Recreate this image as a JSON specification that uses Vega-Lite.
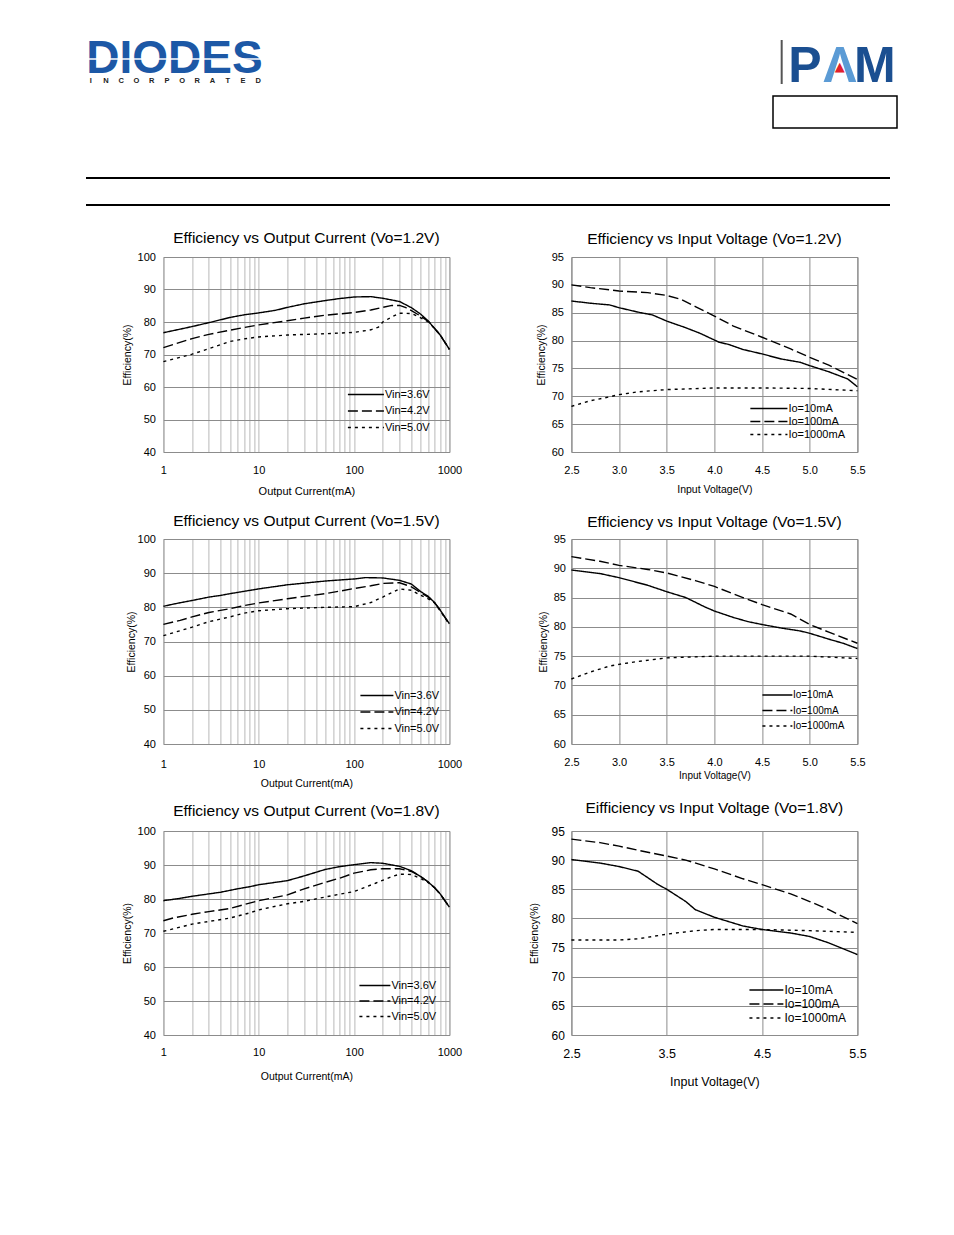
{
"$schema": "https://vega.github.io/schema/vega-lite/v6.json",
"background": "white",
"padding": {"left": 85, "top": 36, "right": 5, "bottom": 5},
"config": {
 "font": "Liberation Sans",
 "view": {"stroke": "#808080", "strokeWidth": 1},
 "axis": {"domain": false, "ticks": false, "tickSize": 0, "gridColor": "#8c8c8c", "gridWidth": 1, "gridOpacity": 1, "labelColor": "black", "titleColor": "black", "titleFontWeight": "normal", "labelFontSize": 11, "titleFontSize": 11, "labelFont": "Liberation Sans", "titleFont": "Liberation Sans", "labelFlush": false, "labelOverlap": false},
 "title": {"fontSize": 15.5, "fontWeight": "normal", "color": "black", "font": "Liberation Sans"},
 "legend": {"labelFontSize": 11, "labelColor": "black", "labelFont": "Liberation Sans", "symbolStrokeColor": "black", "symbolStrokeWidth": 1.5, "symbolType": "M-4,0H4", "padding": 0}
},
"resolve": {"scale": {"strokeDash": "independent", "color": "independent"}, "legend": {"strokeDash": "independent", "color": "independent"}},
"datasets": {
 "c1": [
  {"s":"Vin=3.6V","x":1,"y":76.7},{"s":"Vin=3.6V","x":1.5,"y":77.8},{"s":"Vin=3.6V","x":2,"y":78.6},{"s":"Vin=3.6V","x":3,"y":79.8},{"s":"Vin=3.6V","x":5,"y":81.4},{"s":"Vin=3.6V","x":7,"y":82.2},{"s":"Vin=3.6V","x":10,"y":82.8},{"s":"Vin=3.6V","x":15,"y":83.6},{"s":"Vin=3.6V","x":20,"y":84.5},{"s":"Vin=3.6V","x":30,"y":85.6},{"s":"Vin=3.6V","x":50,"y":86.6},{"s":"Vin=3.6V","x":70,"y":87.2},{"s":"Vin=3.6V","x":100,"y":87.7},{"s":"Vin=3.6V","x":150,"y":87.8},{"s":"Vin=3.6V","x":200,"y":87.3},{"s":"Vin=3.6V","x":300,"y":86.3},{"s":"Vin=3.6V","x":400,"y":84.4},{"s":"Vin=3.6V","x":500,"y":82.4},{"s":"Vin=3.6V","x":600,"y":80.3},{"s":"Vin=3.6V","x":700,"y":78},{"s":"Vin=3.6V","x":800,"y":76},{"s":"Vin=3.6V","x":1000,"y":71.6},
  {"s":"Vin=4.2V","x":1,"y":72.1},{"s":"Vin=4.2V","x":2,"y":74.9},{"s":"Vin=4.2V","x":3,"y":76.2},{"s":"Vin=4.2V","x":5,"y":77.5},{"s":"Vin=4.2V","x":7,"y":78.3},{"s":"Vin=4.2V","x":10,"y":79.1},{"s":"Vin=4.2V","x":20,"y":80.4},{"s":"Vin=4.2V","x":30,"y":81.2},{"s":"Vin=4.2V","x":50,"y":82.1},{"s":"Vin=4.2V","x":100,"y":82.9},{"s":"Vin=4.2V","x":150,"y":83.7},{"s":"Vin=4.2V","x":200,"y":84.5},{"s":"Vin=4.2V","x":250,"y":85.1},{"s":"Vin=4.2V","x":300,"y":85.1},{"s":"Vin=4.2V","x":350,"y":84.4},{"s":"Vin=4.2V","x":400,"y":83.5},{"s":"Vin=4.2V","x":500,"y":81.8},{"s":"Vin=4.2V","x":600,"y":80.2},{"s":"Vin=4.2V","x":700,"y":78},{"s":"Vin=4.2V","x":800,"y":76},{"s":"Vin=4.2V","x":1000,"y":71.6},
  {"s":"Vin=5.0V","x":1,"y":67.8},{"s":"Vin=5.0V","x":2,"y":70.1},{"s":"Vin=5.0V","x":3,"y":71.8},{"s":"Vin=5.0V","x":5,"y":74},{"s":"Vin=5.0V","x":7,"y":74.8},{"s":"Vin=5.0V","x":10,"y":75.4},{"s":"Vin=5.0V","x":20,"y":76},{"s":"Vin=5.0V","x":50,"y":76.4},{"s":"Vin=5.0V","x":100,"y":76.8},{"s":"Vin=5.0V","x":150,"y":77.6},{"s":"Vin=5.0V","x":180,"y":78.4},{"s":"Vin=5.0V","x":200,"y":80},{"s":"Vin=5.0V","x":250,"y":81.6},{"s":"Vin=5.0V","x":300,"y":82.7},{"s":"Vin=5.0V","x":400,"y":82.6},{"s":"Vin=5.0V","x":500,"y":81.3},{"s":"Vin=5.0V","x":600,"y":80},{"s":"Vin=5.0V","x":700,"y":78},{"s":"Vin=5.0V","x":800,"y":76},{"s":"Vin=5.0V","x":1000,"y":71.6}
 ],
 "c2": [
  {"s":"Io=10mA","x":2.5,"y":87.1},{"s":"Io=10mA","x":2.7,"y":86.7},{"s":"Io=10mA","x":2.9,"y":86.4},{"s":"Io=10mA","x":3.0,"y":85.9},{"s":"Io=10mA","x":3.2,"y":85.1},{"s":"Io=10mA","x":3.35,"y":84.6},{"s":"Io=10mA","x":3.5,"y":83.5},{"s":"Io=10mA","x":3.7,"y":82.3},{"s":"Io=10mA","x":3.85,"y":81.3},{"s":"Io=10mA","x":4.05,"y":79.7},{"s":"Io=10mA","x":4.15,"y":79.3},{"s":"Io=10mA","x":4.3,"y":78.4},{"s":"Io=10mA","x":4.5,"y":77.6},{"s":"Io=10mA","x":4.7,"y":76.7},{"s":"Io=10mA","x":4.9,"y":76.1},{"s":"Io=10mA","x":5.0,"y":75.5},{"s":"Io=10mA","x":5.2,"y":74.4},{"s":"Io=10mA","x":5.4,"y":73.1},{"s":"Io=10mA","x":5.5,"y":71.7},
  {"s":"Io=100mA","x":2.5,"y":90},{"s":"Io=100mA","x":2.7,"y":89.5},{"s":"Io=100mA","x":3.0,"y":88.9},{"s":"Io=100mA","x":3.3,"y":88.6},{"s":"Io=100mA","x":3.5,"y":88.1},{"s":"Io=100mA","x":3.65,"y":87.4},{"s":"Io=100mA","x":3.8,"y":86.1},{"s":"Io=100mA","x":4.0,"y":84.4},{"s":"Io=100mA","x":4.2,"y":82.6},{"s":"Io=100mA","x":4.5,"y":80.6},{"s":"Io=100mA","x":4.8,"y":78.5},{"s":"Io=100mA","x":5.0,"y":77},{"s":"Io=100mA","x":5.2,"y":75.6},{"s":"Io=100mA","x":5.5,"y":73},
  {"s":"Io=1000mA","x":2.5,"y":68.2},{"s":"Io=1000mA","x":2.7,"y":69.2},{"s":"Io=1000mA","x":2.9,"y":69.9},{"s":"Io=1000mA","x":3.0,"y":70.3},{"s":"Io=1000mA","x":3.2,"y":70.8},{"s":"Io=1000mA","x":3.5,"y":71.2},{"s":"Io=1000mA","x":4.0,"y":71.5},{"s":"Io=1000mA","x":4.5,"y":71.5},{"s":"Io=1000mA","x":5.0,"y":71.4},{"s":"Io=1000mA","x":5.5,"y":71}
 ],
 "c3": [
  {"s":"Vin=3.6V","x":1,"y":80.3},{"s":"Vin=3.6V","x":1.3,"y":81},{"s":"Vin=3.6V","x":2,"y":82},{"s":"Vin=3.6V","x":3,"y":83},{"s":"Vin=3.6V","x":4,"y":83.5},{"s":"Vin=3.6V","x":5,"y":84},{"s":"Vin=3.6V","x":10,"y":85.4},{"s":"Vin=3.6V","x":20,"y":86.6},{"s":"Vin=3.6V","x":50,"y":87.7},{"s":"Vin=3.6V","x":100,"y":88.3},{"s":"Vin=3.6V","x":130,"y":88.7},{"s":"Vin=3.6V","x":200,"y":88.6},{"s":"Vin=3.6V","x":300,"y":87.9},{"s":"Vin=3.6V","x":400,"y":86.8},{"s":"Vin=3.6V","x":500,"y":84.6},{"s":"Vin=3.6V","x":600,"y":83.2},{"s":"Vin=3.6V","x":700,"y":81.4},{"s":"Vin=3.6V","x":800,"y":79.2},{"s":"Vin=3.6V","x":1000,"y":75.2},
  {"s":"Vin=4.2V","x":1,"y":75},{"s":"Vin=4.2V","x":1.5,"y":76.2},{"s":"Vin=4.2V","x":2,"y":77.2},{"s":"Vin=4.2V","x":3,"y":78.5},{"s":"Vin=4.2V","x":5,"y":79.6},{"s":"Vin=4.2V","x":7,"y":80.5},{"s":"Vin=4.2V","x":10,"y":81.3},{"s":"Vin=4.2V","x":20,"y":82.5},{"s":"Vin=4.2V","x":30,"y":83.2},{"s":"Vin=4.2V","x":50,"y":84},{"s":"Vin=4.2V","x":100,"y":85.5},{"s":"Vin=4.2V","x":150,"y":86.3},{"s":"Vin=4.2V","x":200,"y":87},{"s":"Vin=4.2V","x":300,"y":87.2},{"s":"Vin=4.2V","x":400,"y":86},{"s":"Vin=4.2V","x":500,"y":84.3},{"s":"Vin=4.2V","x":600,"y":83},{"s":"Vin=4.2V","x":700,"y":81.3},{"s":"Vin=4.2V","x":800,"y":79.2},{"s":"Vin=4.2V","x":1000,"y":75},
  {"s":"Vin=5.0V","x":1,"y":71.7},{"s":"Vin=5.0V","x":2,"y":74.2},{"s":"Vin=5.0V","x":3,"y":75.8},{"s":"Vin=5.0V","x":5,"y":77.2},{"s":"Vin=5.0V","x":7,"y":78.3},{"s":"Vin=5.0V","x":10,"y":79},{"s":"Vin=5.0V","x":20,"y":79.6},{"s":"Vin=5.0V","x":50,"y":80},{"s":"Vin=5.0V","x":100,"y":80.2},{"s":"Vin=5.0V","x":150,"y":81.4},{"s":"Vin=5.0V","x":200,"y":83},{"s":"Vin=5.0V","x":300,"y":85.4},{"s":"Vin=5.0V","x":400,"y":85},{"s":"Vin=5.0V","x":500,"y":83.5},{"s":"Vin=5.0V","x":600,"y":82.5},{"s":"Vin=5.0V","x":700,"y":81.3},{"s":"Vin=5.0V","x":800,"y":79},{"s":"Vin=5.0V","x":1000,"y":75}
 ],
 "c4": [
  {"s":"Io=10mA","x":2.5,"y":89.7},{"s":"Io=10mA","x":2.8,"y":89.1},{"s":"Io=10mA","x":3.0,"y":88.4},{"s":"Io=10mA","x":3.3,"y":87.1},{"s":"Io=10mA","x":3.5,"y":86},{"s":"Io=10mA","x":3.7,"y":85},{"s":"Io=10mA","x":3.9,"y":83.4},{"s":"Io=10mA","x":4.0,"y":82.7},{"s":"Io=10mA","x":4.2,"y":81.6},{"s":"Io=10mA","x":4.35,"y":80.9},{"s":"Io=10mA","x":4.5,"y":80.4},{"s":"Io=10mA","x":4.7,"y":79.8},{"s":"Io=10mA","x":4.9,"y":79.3},{"s":"Io=10mA","x":5.0,"y":78.9},{"s":"Io=10mA","x":5.2,"y":77.9},{"s":"Io=10mA","x":5.35,"y":77.2},{"s":"Io=10mA","x":5.5,"y":76.3},
  {"s":"Io=100mA","x":2.5,"y":92},{"s":"Io=100mA","x":2.8,"y":91.2},{"s":"Io=100mA","x":3.0,"y":90.5},{"s":"Io=100mA","x":3.3,"y":89.8},{"s":"Io=100mA","x":3.5,"y":89.2},{"s":"Io=100mA","x":3.8,"y":87.9},{"s":"Io=100mA","x":4.0,"y":86.9},{"s":"Io=100mA","x":4.3,"y":85},{"s":"Io=100mA","x":4.5,"y":83.8},{"s":"Io=100mA","x":4.8,"y":82.2},{"s":"Io=100mA","x":5.0,"y":80.4},{"s":"Io=100mA","x":5.2,"y":79.1},{"s":"Io=100mA","x":5.5,"y":77.2},
  {"s":"Io=1000mA","x":2.5,"y":71.1},{"s":"Io=1000mA","x":2.7,"y":72.3},{"s":"Io=1000mA","x":2.9,"y":73.3},{"s":"Io=1000mA","x":3.0,"y":73.6},{"s":"Io=1000mA","x":3.2,"y":74.1},{"s":"Io=1000mA","x":3.4,"y":74.5},{"s":"Io=1000mA","x":3.5,"y":74.7},{"s":"Io=1000mA","x":4.0,"y":75},{"s":"Io=1000mA","x":4.5,"y":75},{"s":"Io=1000mA","x":5.0,"y":75},{"s":"Io=1000mA","x":5.5,"y":74.6}
 ],
 "c5": [
  {"s":"Vin=3.6V","x":1,"y":79.5},{"s":"Vin=3.6V","x":1.5,"y":80.2},{"s":"Vin=3.6V","x":2,"y":80.8},{"s":"Vin=3.6V","x":3,"y":81.5},{"s":"Vin=3.6V","x":4,"y":82},{"s":"Vin=3.6V","x":6,"y":83},{"s":"Vin=3.6V","x":8,"y":83.6},{"s":"Vin=3.6V","x":10,"y":84.2},{"s":"Vin=3.6V","x":20,"y":85.4},{"s":"Vin=3.6V","x":30,"y":86.8},{"s":"Vin=3.6V","x":50,"y":88.7},{"s":"Vin=3.6V","x":70,"y":89.5},{"s":"Vin=3.6V","x":100,"y":90.1},{"s":"Vin=3.6V","x":150,"y":90.7},{"s":"Vin=3.6V","x":200,"y":90.5},{"s":"Vin=3.6V","x":300,"y":89.6},{"s":"Vin=3.6V","x":400,"y":88.3},{"s":"Vin=3.6V","x":500,"y":86.6},{"s":"Vin=3.6V","x":600,"y":85},{"s":"Vin=3.6V","x":700,"y":83.3},{"s":"Vin=3.6V","x":800,"y":81.5},{"s":"Vin=3.6V","x":1000,"y":77.6},
  {"s":"Vin=4.2V","x":1,"y":73.6},{"s":"Vin=4.2V","x":1.3,"y":74.5},{"s":"Vin=4.2V","x":2,"y":75.5},{"s":"Vin=4.2V","x":3,"y":76.3},{"s":"Vin=4.2V","x":5,"y":77.2},{"s":"Vin=4.2V","x":8,"y":78.8},{"s":"Vin=4.2V","x":10,"y":79.5},{"s":"Vin=4.2V","x":20,"y":81.2},{"s":"Vin=4.2V","x":30,"y":83},{"s":"Vin=4.2V","x":50,"y":84.9},{"s":"Vin=4.2V","x":70,"y":86.1},{"s":"Vin=4.2V","x":100,"y":87.6},{"s":"Vin=4.2V","x":150,"y":88.6},{"s":"Vin=4.2V","x":200,"y":88.9},{"s":"Vin=4.2V","x":300,"y":88.9},{"s":"Vin=4.2V","x":400,"y":88.1},{"s":"Vin=4.2V","x":500,"y":86.6},{"s":"Vin=4.2V","x":600,"y":85},{"s":"Vin=4.2V","x":700,"y":83.3},{"s":"Vin=4.2V","x":800,"y":81.5},{"s":"Vin=4.2V","x":1000,"y":77.6},
  {"s":"Vin=5.0V","x":1,"y":70.5},{"s":"Vin=5.0V","x":2,"y":72.6},{"s":"Vin=5.0V","x":3,"y":73.4},{"s":"Vin=5.0V","x":5,"y":74.4},{"s":"Vin=5.0V","x":8,"y":75.9},{"s":"Vin=5.0V","x":10,"y":76.8},{"s":"Vin=5.0V","x":20,"y":78.6},{"s":"Vin=5.0V","x":30,"y":79.3},{"s":"Vin=5.0V","x":50,"y":80.6},{"s":"Vin=5.0V","x":100,"y":82.2},{"s":"Vin=5.0V","x":170,"y":84.7},{"s":"Vin=5.0V","x":250,"y":86.6},{"s":"Vin=5.0V","x":300,"y":87.3},{"s":"Vin=5.0V","x":400,"y":87.2},{"s":"Vin=5.0V","x":500,"y":86},{"s":"Vin=5.0V","x":600,"y":84.8},{"s":"Vin=5.0V","x":700,"y":83.3},{"s":"Vin=5.0V","x":800,"y":81.5},{"s":"Vin=5.0V","x":1000,"y":77.6}
 ],
 "c6": [
  {"s":"Io=10mA","x":2.5,"y":90.1},{"s":"Io=10mA","x":2.8,"y":89.5},{"s":"Io=10mA","x":3.0,"y":88.9},{"s":"Io=10mA","x":3.2,"y":88.1},{"s":"Io=10mA","x":3.4,"y":85.9},{"s":"Io=10mA","x":3.5,"y":85},{"s":"Io=10mA","x":3.7,"y":82.9},{"s":"Io=10mA","x":3.8,"y":81.5},{"s":"Io=10mA","x":4.0,"y":80.2},{"s":"Io=10mA","x":4.3,"y":78.7},{"s":"Io=10mA","x":4.5,"y":78.1},{"s":"Io=10mA","x":4.8,"y":77.5},{"s":"Io=10mA","x":5.0,"y":76.9},{"s":"Io=10mA","x":5.2,"y":75.8},{"s":"Io=10mA","x":5.5,"y":73.8},
  {"s":"Io=100mA","x":2.5,"y":93.6},{"s":"Io=100mA","x":2.8,"y":93},{"s":"Io=100mA","x":3.0,"y":92.4},{"s":"Io=100mA","x":3.2,"y":91.7},{"s":"Io=100mA","x":3.5,"y":90.7},{"s":"Io=100mA","x":3.7,"y":90},{"s":"Io=100mA","x":4.0,"y":88.5},{"s":"Io=100mA","x":4.3,"y":86.8},{"s":"Io=100mA","x":4.5,"y":85.8},{"s":"Io=100mA","x":4.8,"y":84.2},{"s":"Io=100mA","x":5.0,"y":82.9},{"s":"Io=100mA","x":5.2,"y":81.5},{"s":"Io=100mA","x":5.5,"y":79.1},
  {"s":"Io=1000mA","x":2.5,"y":76.3},{"s":"Io=1000mA","x":3.0,"y":76.3},{"s":"Io=1000mA","x":3.2,"y":76.5},{"s":"Io=1000mA","x":3.5,"y":77.3},{"s":"Io=1000mA","x":3.8,"y":77.9},{"s":"Io=1000mA","x":4.0,"y":78.1},{"s":"Io=1000mA","x":4.5,"y":78.1},{"s":"Io=1000mA","x":5.0,"y":77.9},{"s":"Io=1000mA","x":5.5,"y":77.6}
 ]
},
"center": true,
"spacing": 24,
"vconcat": [
 {
  "spacing": 48,
  "vconcat": [
   {
    "spacing": 508,
    "hconcat": [
     {
      "width": 177, "height": 44,
      "view": {"stroke": null},
      "layer": [
       {"data": {"values": [{"name": "DIODES"}]}, "mark": {"type": "text", "fontSize": 46, "fontWeight": "bold", "font": "Liberation Sans", "color": "#1c58a6", "baseline": "alphabetic", "dy": 11}, "encoding": {"text": {"field": "name"}}},
       {"data": {"values": [{"k": "stripe"}]}, "mark": {"type": "rule", "color": "white", "strokeWidth": 1.5, "yOffset": -3}, "encoding": {"y": {"field": "k", "type": "nominal", "scale": {"type": "point"}, "axis": null}}},
       {"data": {"values": [{"i":1,"c":"I"},{"i":2,"c":"N"},{"i":3,"c":"C"},{"i":4,"c":"O"},{"i":5,"c":"R"},{"i":6,"c":"P"},{"i":7,"c":"O"},{"i":8,"c":"R"},{"i":9,"c":"A"},{"i":10,"c":"T"},{"i":11,"c":"E"},{"i":12,"c":"D"}]}, "mark": {"type": "text", "fontSize": 7.5, "fontWeight": "bold", "color": "#222222", "baseline": "middle", "dy": 19}, "encoding": {"x": {"field": "i", "type": "ordinal", "scale": {"type": "point", "padding": 0.32}, "axis": null}, "text": {"field": "c"}}}
      ]
     },
     {
      "spacing": 3,
      "vconcat": [
       {
        "width": 124, "height": 44,
        "view": {"stroke": null},
        "resolve": {"scale": {"x": "independent"}},
        "layer": [
         {"data": {"values": [{"k": "|"}]}, "mark": {"type": "rule", "color": "#555555", "strokeWidth": 2}, "encoding": {"x": {"field": "k", "type": "nominal", "scale": {"type": "point", "align": 0.07}, "axis": null}}},
         {"layer": [
           {"data": {"values": [{"k": "P", "t": "P"}, {"k": "A", "t": "Λ"}, {"k": "M", "t": "M"}]}, "mark": {"type": "text", "fontSize": 50, "fontWeight": "bold", "baseline": "alphabetic", "dy": 20}, "encoding": {"x": {"field": "k", "type": "nominal", "scale": {"type": "point", "domain": ["P", "A", "M"], "padding": 0.77, "align": 0.59}, "axis": null}, "text": {"field": "t"}, "color": {"field": "k", "type": "nominal", "scale": {"domain": ["P", "A", "M"], "range": ["#1b4f91", "#5b9bd5", "#1b4f91"]}, "legend": null}}},
           {"data": {"values": [{"k": "A"}]}, "mark": {"type": "text", "fontSize": 13, "font": "DejaVu Sans", "color": "#e2202c", "baseline": "middle", "dy": 5}, "encoding": {"x": {"field": "k", "type": "nominal", "axis": null}, "text": {"value": "▲"}}}
         ]}
        ]
       },
       {
        "spacing": 0,
        "hconcat": [
         {
          "width": 124, "height": 32,
          "view": {"stroke": "black", "strokeWidth": 1.5},
          "data": {"values": [{"t": ""}]},
          "mark": "text",
          "encoding": {"text": {"field": "t"}}
         },
         {
          "width": 46, "height": 32,
          "view": {"stroke": null},
          "data": {"values": [{"t": ""}]},
          "mark": "text",
          "encoding": {"text": {"field": "t"}}
         }
        ]
       }
      ]
     }
    ]
   },
   {
    "width": 804, "height": 27,
    "view": {"stroke": null},
    "data": {"values": [{"k": "top"}, {"k": "bottom"}]},
    "mark": {"type": "rule", "color": "black", "strokeWidth": 2},
    "encoding": {"y": {"field": "k", "type": "ordinal", "sort": ["top", "bottom"], "scale": {"type": "point", "padding": 0}, "axis": null}}
   }
  ]
 },
 {
  "columns": 2,
  "bounds": "flush",
  "spacing": {"row": 87, "column": 122},
  "resolve": {"scale": {"strokeDash": "independent"}, "legend": {"strokeDash": "independent"}},
  "concat": [
   {
    "width": 286, "height": 195,
    "title": {"text": "Efficiency vs Output Current (Vo=1.2V)", "offset": 5},
    "data": {"name": "c1"},
    "mark": {"type": "line", "color": "black", "strokeWidth": 1.4},
    "encoding": {
     "x": {"field": "x", "type": "quantitative", "scale": {"type": "log", "domain": [1, 1000], "nice": false}, "axis": {"title": "Output Current(mA)", "values": [1,2,3,4,5,6,7,8,9,10,20,30,40,50,60,70,80,90,100,200,300,400,500,600,700,800,900,1000], "format": "d", "labelExpr": "datum.value == 1 || datum.value == 10 || datum.value == 100 || datum.value == 1000 ? datum.label : ''", "gridColor": "#b8b8b8", "labelPadding": 12, "titlePadding": 10}},
     "y": {"field": "y", "type": "quantitative", "scale": {"domain": [40, 100], "nice": false, "zero": false}, "axis": {"title": "Efficiency(%)", "values": [40,50,60,70,80,90,100], "labelPadding": 8, "titlePadding": 5, "titleFontSize": 10.5}},
     "strokeDash": {"field": "s", "type": "nominal", "scale": {"domain": ["Vin=3.6V", "Vin=4.2V", "Vin=5.0V"], "range": [[1, 0], [10, 4], [3, 4]]}, "legend": {"title": null, "orient": "bottom-right", "offset": 19, "rowPadding": 4.5, "symbolSize": 81, "labelOffset": 13.5}}
    }
   },
   {
    "width": 286, "height": 195,
    "title": {"text": "Efficiency vs Input Voltage (Vo=1.2V)", "offset": 4},
    "data": {"name": "c2"},
    "mark": {"type": "line", "color": "black", "strokeWidth": 1.4},
    "encoding": {
     "x": {"field": "x", "type": "quantitative", "scale": {"domain": [2.5, 5.5], "nice": false, "zero": false}, "axis": {"title": "Input Voltage(V)", "values": [2.5, 3, 3.5, 4, 4.5, 5, 5.5], "format": ".1f", "labelPadding": 12, "titlePadding": 9, "titleFontSize": 10.5}},
     "y": {"field": "y", "type": "quantitative", "scale": {"domain": [60, 95], "nice": false, "zero": false}, "axis": {"title": "Efficiency(%)", "values": [60,65,70,75,80,85,90,95], "labelPadding": 8, "titlePadding": 5, "titleFontSize": 10.5}},
     "strokeDash": {"field": "s", "type": "nominal", "scale": {"domain": ["Io=10mA", "Io=100mA", "Io=1000mA"], "range": [[1, 0], [10, 4], [3, 4]]}, "legend": {"title": null, "orient": "bottom-right", "offset": 12, "rowPadding": 1, "symbolSize": 86, "labelOffset": 14}}
    }
   },
   {
    "width": 286, "height": 205,
    "title": {"text": "Efficiency vs Output Current (Vo=1.5V)", "offset": 4},
    "data": {"name": "c3"},
    "mark": {"type": "line", "color": "black", "strokeWidth": 1.4},
    "encoding": {
     "x": {"field": "x", "type": "quantitative", "scale": {"type": "log", "domain": [1, 1000], "nice": false}, "axis": {"title": "Output Current(mA)", "values": [1,2,3,4,5,6,7,8,9,10,20,30,40,50,60,70,80,90,100,200,300,400,500,600,700,800,900,1000], "format": "d", "labelExpr": "datum.value == 1 || datum.value == 10 || datum.value == 100 || datum.value == 1000 ? datum.label : ''", "gridColor": "#b8b8b8", "labelPadding": 14, "titlePadding": 9, "titleFontSize": 10.5}},
     "y": {"field": "y", "type": "quantitative", "scale": {"domain": [40, 100], "nice": false, "zero": false}, "axis": {"title": "Efficiency(%)", "values": [40,50,60,70,80,90,100], "labelPadding": 8, "titlePadding": 1, "titleFontSize": 10.5}},
     "strokeDash": {"field": "s", "type": "nominal", "scale": {"domain": ["Vin=3.6V", "Vin=4.2V", "Vin=5.0V"], "range": [[1, 0], [10, 4], [3, 4]]}, "legend": {"title": null, "orient": "bottom-right", "offset": 10, "rowPadding": 4.5, "symbolSize": 68, "labelOffset": 12}}
    }
   },
   {
    "width": 286, "height": 205,
    "title": {"text": "Efficiency  vs Input Voltage (Vo=1.5V)", "offset": 3},
    "data": {"name": "c4"},
    "mark": {"type": "line", "color": "black", "strokeWidth": 1.4},
    "encoding": {
     "x": {"field": "x", "type": "quantitative", "scale": {"domain": [2.5, 5.5], "nice": false, "zero": false}, "axis": {"title": "Input Voltage(V)", "values": [2.5, 3, 3.5, 4, 4.5, 5, 5.5], "format": ".1f", "labelPadding": 12, "titlePadding": 3, "titleFontSize": 10}},
     "y": {"field": "y", "type": "quantitative", "scale": {"domain": [60, 95], "nice": false, "zero": false}, "axis": {"title": "Efficiency(%)", "values": [60,65,70,75,80,85,90,95], "labelPadding": 6, "titlePadding": 5, "titleFontSize": 10.5}},
     "strokeDash": {"field": "s", "type": "nominal", "scale": {"domain": ["Io=10mA", "Io=100mA", "Io=1000mA"], "range": [[1, 0], [10, 4], [3, 4]]}, "legend": {"title": null, "orient": "bottom-right", "offset": 13, "rowPadding": 5.5, "symbolSize": 56, "labelOffset": 10.5, "labelFontSize": 10}}
    }
   },
   {
    "width": 286, "height": 204,
    "title": {"text": "Efficiency vs Output Current  (Vo=1.8V)", "offset": 6},
    "data": {"name": "c5"},
    "mark": {"type": "line", "color": "black", "strokeWidth": 1.4},
    "encoding": {
     "x": {"field": "x", "type": "quantitative", "scale": {"type": "log", "domain": [1, 1000], "nice": false}, "axis": {"title": "Output Current(mA)", "values": [1,2,3,4,5,6,7,8,9,10,20,30,40,50,60,70,80,90,100,200,300,400,500,600,700,800,900,1000], "format": "d", "labelExpr": "datum.value == 1 || datum.value == 10 || datum.value == 100 || datum.value == 1000 ? datum.label : ''", "gridColor": "#b8b8b8", "labelPadding": 11, "titlePadding": 14, "titleFontSize": 10.5}},
     "y": {"field": "y", "type": "quantitative", "scale": {"domain": [40, 100], "nice": false, "zero": false}, "axis": {"title": "Efficiency(%)", "values": [40,50,60,70,80,90,100], "labelPadding": 8, "titlePadding": 5, "titleFontSize": 10.5}},
     "strokeDash": {"field": "s", "type": "nominal", "scale": {"domain": ["Vin=3.6V", "Vin=4.2V", "Vin=5.0V"], "range": [[1, 0], [10, 4], [3, 4]]}, "legend": {"title": null, "orient": "bottom-right", "offset": 13, "rowPadding": 3.5, "symbolSize": 60, "labelOffset": 11}}
    }
   },
   {
    "width": 286, "height": 204,
    "title": {"text": "Eifficiency vs Input Voltage (Vo=1.8V)", "offset": 9},
    "data": {"name": "c6"},
    "mark": {"type": "line", "color": "black", "strokeWidth": 1.4},
    "encoding": {
     "x": {"field": "x", "type": "quantitative", "scale": {"domain": [2.5, 5.5], "nice": false, "zero": false}, "axis": {"title": "Input Voltage(V)", "values": [2.5, 3.5, 4.5, 5.5], "format": ".1f", "labelPadding": 12, "titlePadding": 16, "titleFontSize": 12.5, "labelFontSize": 12.5}},
     "y": {"field": "y", "type": "quantitative", "scale": {"domain": [60, 95], "nice": false, "zero": false}, "axis": {"title": "Efficiency(%)", "values": [60,65,70,75,80,85,90,95], "labelPadding": 7, "titlePadding": 12, "titleFontSize": 10.5, "labelFontSize": 12}},
     "strokeDash": {"field": "s", "type": "nominal", "scale": {"domain": ["Io=10mA", "Io=100mA", "Io=1000mA"], "range": [[1, 0], [10, 4], [3, 4]]}, "legend": {"title": null, "orient": "bottom-right", "offset": 11, "rowPadding": 2, "symbolSize": 72, "labelOffset": 12, "labelFontSize": 12}}
    }
   }
  ]
 }
]
}
